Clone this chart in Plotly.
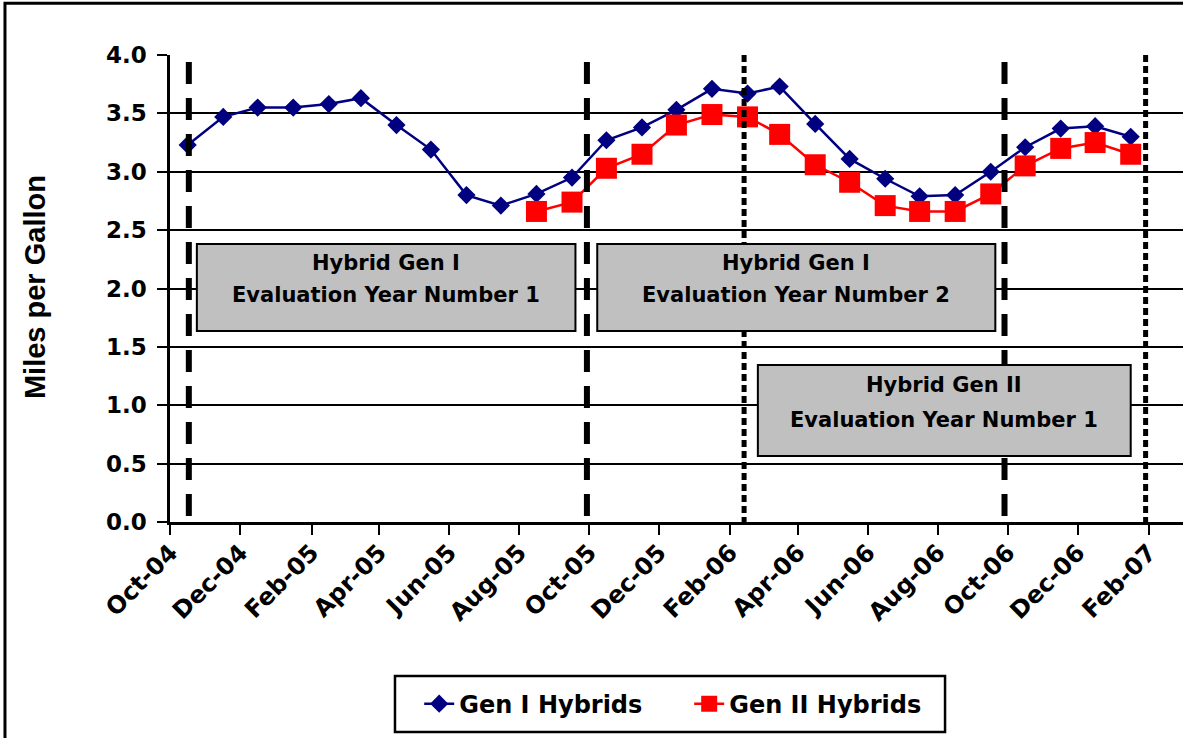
import pandas as pd
import plotly.graph_objects as go

# Monthly fuel economy (miles per gallon), one value per month
months_gen1 = [
    "2004-10", "2004-11", "2004-12", "2005-01", "2005-02", "2005-03", "2005-04",
    "2005-05", "2005-06", "2005-07", "2005-08", "2005-09", "2005-10", "2005-11",
    "2005-12", "2006-01", "2006-02", "2006-03", "2006-04", "2006-05", "2006-06",
    "2006-07", "2006-08", "2006-09", "2006-10", "2006-11", "2006-12", "2007-01",
]
mpg_gen1 = [
    3.23, 3.47, 3.55, 3.55, 3.58, 3.63, 3.40,
    3.19, 2.80, 2.71, 2.81, 2.95, 3.27, 3.38,
    3.53, 3.71, 3.67, 3.73, 3.41, 3.11, 2.94,
    2.79, 2.80, 3.00, 3.21, 3.37, 3.39, 3.30,
]

months_gen2 = [
    "2005-08", "2005-09", "2005-10", "2005-11", "2005-12", "2006-01", "2006-02",
    "2006-03", "2006-04", "2006-05", "2006-06", "2006-07", "2006-08", "2006-09",
    "2006-10", "2006-11", "2006-12", "2007-01",
]
mpg_gen2 = [
    2.66, 2.74, 3.03, 3.15, 3.40, 3.49, 3.47,
    3.32, 3.06, 2.91, 2.71, 2.66, 2.66, 2.81,
    3.05, 3.20, 3.25, 3.15,
]

# Evaluation-year boundaries
gen1_year_marks = ["2004-10-17", "2005-09-29", "2006-09-28"]
gen2_year_marks = ["2006-02-13", "2007-01-29"]

# Evaluation-year label boxes: (x0, x1, y0, y1, line1 y, line2 y, line1, line2)
period_boxes = [
    ("2004-10-24", "2005-09-19", 1.636, 2.381, 2.22, 1.944, "Hybrid Gen I", "Evaluation Year Number 1"),
    ("2005-10-08", "2006-09-20", 1.636, 2.381, 2.22, 1.944, "Hybrid Gen I", "Evaluation Year Number 2"),
    ("2006-02-25", "2007-01-16", 0.565, 1.345, 1.173, 0.874, "Hybrid Gen II", "Evaluation Year Number 1"),
]


def mid_month(months):
    # each monthly value sits in the middle of its month
    return [pd.Timestamp(m + "-01") + pd.Timedelta(days=15) for m in months]


BOLD = "DejaVu Sans"

fig = go.Figure()
fig.add_trace(go.Scatter(
    x=mid_month(months_gen1), y=mpg_gen1, name="Gen I Hybrids",
    mode="lines+markers",
    line=dict(color="#000080", width=2.5),
    marker=dict(symbol="diamond", size=14, color="#000080"),
))
fig.add_trace(go.Scatter(
    x=mid_month(months_gen2), y=mpg_gen2, name="Gen II Hybrids",
    mode="lines+markers",
    line=dict(color="#FF0000", width=2.5),
    marker=dict(symbol="square", size=21, color="#FF0000"),
))

shapes = []
for d in gen1_year_marks:
    shapes.append(dict(type="line", xref="x", yref="y", x0=d, x1=d, y0=3.94, y1=0,
                       line=dict(color="black", width=6, dash="22px,14px")))
for d in gen2_year_marks:
    shapes.append(dict(type="line", xref="x", yref="y", x0=d, x1=d, y0=4.0, y1=0,
                       line=dict(color="black", width=5, dash="7px,4px")))

annotations = []
for x0, x1, y0, y1, t1y, t2y, t1, t2 in period_boxes:
    shapes.append(dict(type="rect", xref="x", yref="y", x0=x0, x1=x1, y0=y0, y1=y1,
                       fillcolor="#C0C0C0", line=dict(color="black", width=2)))
    xc = pd.Timestamp(x0) + (pd.Timestamp(x1) - pd.Timestamp(x0)) / 2
    for ty, txt in ((t1y, t1), (t2y, t2)):
        annotations.append(dict(x=xc, y=ty, xref="x", yref="y", text=txt, showarrow=False,
                                xanchor="center", yanchor="middle",
                                font=dict(family=BOLD, size=21, color="black", weight="bold")))

# chart frame
shapes.append(dict(type="rect", xref="paper", yref="paper", x0=-0.1629, x1=1.05, y0=-0.48, y1=1.111,
                   line=dict(color="black", width=3), fillcolor="rgba(0,0,0,0)", layer="below"))
# legend frame
shapes.append(dict(type="rect", xref="paper", yref="paper", x0=0.2221, x1=0.7651, y0=-0.3298, y1=-0.4497,
                   line=dict(color="black", width=2.5), fillcolor="white", layer="below"))

annotations.append(dict(x=-0.1333, y=0.503, xref="paper", yref="paper", text="Miles per Gallon",
                        textangle=-90, showarrow=False, xanchor="center", yanchor="middle",
                        font=dict(family="Liberation Sans, Arial", size=29, color="black", weight="bold")))

fig.update_layout(
    width=1183, height=738,
    margin=dict(l=170, r=0, t=55, b=216),
    paper_bgcolor="white", plot_bgcolor="white",
    showlegend=True,
    legend=dict(orientation="h", x=0.246, xanchor="left", y=-0.3898, yanchor="middle",
                borderwidth=0, bgcolor="rgba(0,0,0,0)",
                font=dict(family=BOLD, size=24, color="black", weight="bold"),
                entrywidth=225, entrywidthmode="pixels",
                itemsizing="trace"),
    shapes=shapes, annotations=annotations,
)
fig.update_xaxes(
    type="date", range=["2004-09-30 14:00", "2007-03-02 14:00"],
    tick0="2004-10-01", dtick="M2", tickformat="%b-%y", tickangle=-45,
    ticks="outside", ticklen=10, tickwidth=2, tickcolor="black",
    showline=True, linecolor="black", linewidth=3, showgrid=False, zeroline=False,
    tickfont=dict(family=BOLD, size=24, color="black", weight="bold"),
    ticklabelstandoff=-6,
)
fig.update_yaxes(
    range=[0, 4], dtick=0.5, tickformat=".1f",
    ticks="outside", ticklen=10, tickwidth=2, tickcolor="black",
    showline=True, linecolor="black", linewidth=2.5,
    showgrid=True, gridcolor="black", gridwidth=2, zeroline=False,
    tickfont=dict(family=BOLD, size=23, color="black", weight="bold"),
    ticklabelstandoff=6,
)

fig.write_html("out.html")
